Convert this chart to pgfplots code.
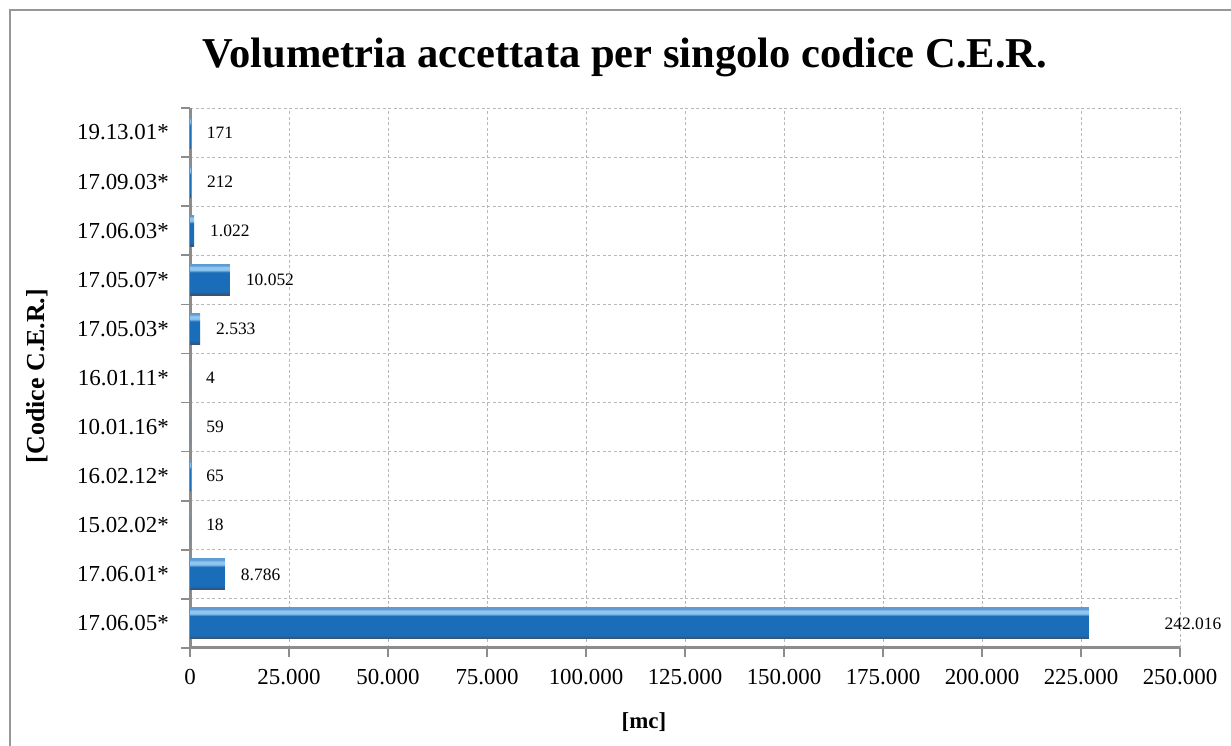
\documentclass[border=0pt]{standalone}
\usepackage{pgfplots}
\pgfplotsset{compat=1.18}
\usepackage{fontspec}
\setmainfont{Liberation Serif}
\definecolor{axgray}{HTML}{8C8C8C}
\definecolor{gridgray}{HTML}{B8B8B8}
\definecolor{barlight}{HTML}{8FC6F0}
\definecolor{barmid}{HTML}{1A6DB8}
\definecolor{bardark}{HTML}{35567C}
\definecolor{bartop}{HTML}{5F9BD3}

\pgfdeclareverticalshading{barshade}{100bp}{%
  color(0bp)=(bardark); color(25bp)=(bardark); color(27.5bp)=(bardark);
  color(31bp)=(barmid); color(62bp)=(barmid); color(66bp)=(barlight);
  color(71bp)=(barlight); color(73bp)=(bartop); color(75bp)=(bartop); color(100bp)=(bartop)}

\pgfplotsset{mybar/.style={xbar, bar width=31bp, bar shift=0pt, draw=none,
  shading=barshade}}

\begin{document}
\begin{tikzpicture}[x=1bp,y=1bp]
\useasboundingbox (0,0) rectangle (1231,746);
\draw[axgray!90, line width=1.3bp] (10,-20) rectangle (1260,736);
\begin{axis}[
  at={(190bp,98bp)}, anchor=south west,
  scale only axis, width=990bp, height=540bp,
  xmin=0, xmax=250000, ymin=-0.5, ymax=10.5,
  clip=false,
  axis x line*=bottom, axis y line*=left,
  axis line style={axgray, line width=3bp},
  xtick={0,25000,50000,75000,100000,125000,150000,175000,200000,225000,250000},
  scaled x ticks=false,
  /pgf/number format/fixed,
  /pgf/number format/1000 sep={.},
  /pgf/number format/assume math mode=true,
  ytick={0,1,2,3,4,5,6,7,8,9,10},
  yticklabels={17.06.05*,17.06.01*,15.02.02*,16.02.12*,10.01.16*,16.01.11*,17.05.03*,17.05.07*,17.06.03*,17.09.03*,19.13.01*},
  minor ytick={-0.5,0.5,1.5,2.5,3.5,4.5,5.5,6.5,7.5,8.5,9.5,10.5},
  tick align=outside,
  major tick length=9bp, minor tick length=9bp,
  major x tick style={axgray, line width=1.6bp},
  major y tick style={draw=none},
  minor y tick style={axgray, line width=1.6bp},
  xmajorgrids, yminorgrids,
  major grid style={gridgray, dash pattern=on 3bp off 2.5bp, line width=0.9bp},
  minor grid style={gridgray, dash pattern=on 3bp off 2.5bp, line width=0.9bp},
  xticklabel style={font=\fontsize{23}{26}\selectfont, inner sep=0pt, anchor=north, yshift=-12bp},
  yticklabel style={font=\fontsize{23}{26}\selectfont, inner sep=0pt, anchor=east, xshift=-12bp},
]
% bars (the longest bar is drawn shorter than its value, as in the original)
\addplot[mybar] coordinates {(227000,0)};
\addplot[mybar] coordinates {(8786,1)};
\addplot[mybar] coordinates {(18,2)};
\addplot[mybar] coordinates {(65,3)};
\addplot[mybar] coordinates {(59,4)};
\addplot[mybar] coordinates {(4,5)};
\addplot[mybar] coordinates {(2533,6)};
\addplot[mybar] coordinates {(10052,7)};
\addplot[mybar] coordinates {(1022,8)};
\addplot[mybar] coordinates {(212,9)};
\addplot[mybar] coordinates {(171,10)};
% value labels
\addplot[draw=none, nodes near coords, point meta=explicit symbolic,
  nodes near coords style={anchor=west, inner sep=0pt, xshift=16bp, font=\fontsize{17.5}{20}\selectfont, text=black}]
  table[x=lx, y=i, meta=lab] {
i lx lab
0 242016 242.016
1 8786 8.786
2 18 18
3 65 65
4 59 59
5 4 4
6 2533 2.533
7 10052 10.052
8 1022 1.022
9 212 212
10 171 171
};
\end{axis}
\node[anchor=base, font=\fontsize{42.7}{48}\selectfont\bfseries] at (625,678) {Volumetria accettata per singolo codice C.E.R.};
\node[rotate=90, font=\fontsize{26}{30}\selectfont\bfseries] at (37,370) {[Codice C.E.R.]};
\node[font=\fontsize{23}{26}\selectfont\bfseries] at (644,24) {[mc]};
\end{tikzpicture}
\end{document}
